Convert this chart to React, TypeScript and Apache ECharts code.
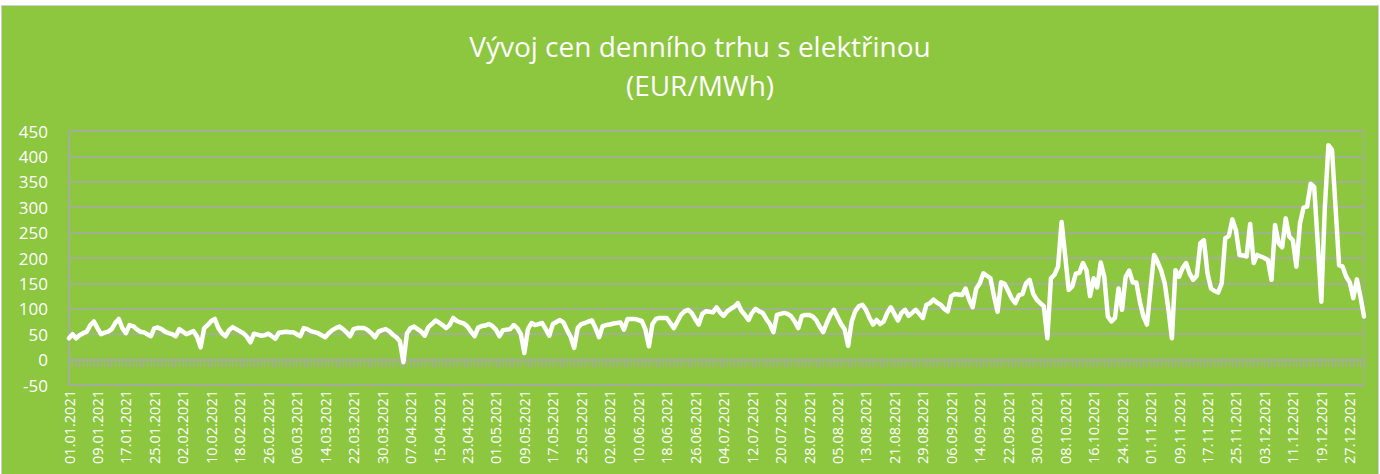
import React, { useEffect, useRef } from "react";
import * as echarts from "echarts";

// Daily prices 2021 (EUR/MWh), one array per month
const jan = [42,50,42,48,52,55,68,75,62,50,53,55,60,72,80,62,52,68,66,60,55,54,50,46,62,63,60,55,52,50,46];
const feb = [60,55,50,53,56,45,24,62,68,76,80,62,52,46,58,64,60,56,52,45,34,51,49,47,48,51,46,41];
const mar = [53,54,55,54,54,50,46,62,60,56,54,52,48,44,52,58,62,65,60,54,46,60,62,62,62,58,52,44,55,58,60];
const apr = [56,49,44,36,-5,52,62,65,60,55,47,64,70,77,73,68,62,68,82,76,73,71,65,55,46,63,66,67,70,66];
const may = [59,46,58,59,60,68,62,50,13,60,72,68,70,72,60,47,70,74,78,73,58,45,23,62,70,72,75,77,62,44,66];
const jun = [68,69,71,72,73,59,80,80,80,78,76,60,26,70,80,82,82,82,72,62,75,88,95,98,92,80,69,90,95,94];
const jul = [93,103,93,86,95,100,104,111,96,88,78,92,100,95,92,80,70,54,88,90,92,90,85,75,62,86,88,88,85,78,65];
const aug = [54,72,88,98,84,70,60,27,75,95,105,108,98,82,69,78,70,75,92,103,90,77,92,98,86,92,98,90,82,108,111];
const sep = [118,112,108,100,95,125,129,128,127,140,118,103,140,150,170,165,160,125,94,152,149,135,120,111,127,129,150,157,130,118];
const oct = [111,105,42,160,167,183,271,205,137,144,169,171,190,176,125,160,142,191,163,85,75,82,140,98,163,175,152,152,114,85,69];
const nov = [140,206,192,175,150,100,42,176,163,180,190,169,157,165,229,235,170,140,135,132,150,239,243,276,255,206,205,203,267,190];
const dec = [206,203,200,196,157,265,229,221,278,242,235,183,268,299,301,346,340,229,114,300,422,413,300,186,183,163,152,121,158,124,85];

const months = [jan, feb, mar, apr, may, jun, jul, aug, sep, oct, nov, dec];
const year = 2021;
const titleLine1 = "Vývoj cen denního trhu s elektřinou";
const titleLine2 = "(EUR/MWh)";
const yMin = -50;
const yMax = 450;
const yStep = 50;
const labelEvery = 8;

const pad = (n: number) => (n < 10 ? "0" + n : "" + n);
const categories: string[] = [];
months.forEach((m, mi) => {
  m.forEach((_, di) => categories.push(`${pad(di + 1)}.${pad(mi + 1)}.${year}`));
});
const values: number[] = ([] as number[]).concat(...months);

const GREEN = "#8dc63f";
const GRID = "#a9a9a9";
const FONT = "'Open Sans', 'Liberation Sans', sans-serif";

export default function App() {
  const ref = useRef<HTMLDivElement>(null);
  useEffect(() => {
    document.body.style.margin = "0";
    const chart = echarts.init(ref.current!, null, { renderer: "svg" });
    chart.setOption({
      animation: false,
      backgroundColor: "transparent",
      title: {
        text: titleLine1 + "\n" + titleLine2,
        left: 695,
        top: 21,
        textAlign: "center",
        textStyle: {
          color: "#ffffff",
          fontSize: 28,
          lineHeight: 39,
          fontWeight: "normal",
          fontFamily: FONT,
        },
      },
      grid: {
        left: 69,
        right: 16,
        top: 131,
        bottom: 89,
        show: true,
        borderColor: GRID,
        borderWidth: 1,
        backgroundColor: "transparent",
      },
      xAxis: [
        {
          type: "category",
          data: categories,
          boundaryGap: false,
          position: "bottom",
          axisLine: { show: true, onZero: true, lineStyle: { color: GRID, width: 1.5 } },
          axisTick: { show: true, interval: 0, length: 8, lineStyle: { color: GRID, width: 1 } },
          axisLabel: { show: false },
          splitLine: { show: false },
        },
        {
          type: "category",
          data: categories,
          boundaryGap: false,
          position: "bottom",
          axisLine: { show: false, onZero: false },
          axisTick: { show: false },
          axisLabel: {
            show: true,
            interval: labelEvery - 1,
            rotate: 90,
            color: "#ffffff",
            fontSize: 14.5,
            fontFamily: FONT,
            margin: 5,
          },
          splitLine: { show: false },
        },
      ],
      yAxis: {
        type: "value",
        min: yMin,
        max: yMax,
        interval: yStep,
        axisLine: { show: true, lineStyle: { color: GRID, width: 1.5 } },
        axisTick: { show: false },
        axisLabel: { color: "#ffffff", fontSize: 17, fontFamily: FONT, margin: 21 },
        splitLine: { show: true, lineStyle: { color: GRID, width: 1.5 } },
      },
      series: [
        {
          type: "line",
          data: values,
          xAxisIndex: 0,
          showSymbol: false,
          symbol: "none",
          lineStyle: { color: "#ffffff", width: 4.5, join: "round", cap: "round" },
          itemStyle: { color: "#ffffff" },
        },
      ],
    });
    return () => chart.dispose();
  }, []);
  return (
    <div style={{ position: "relative", width: 1380, height: 474, background: "#ffffff", overflow: "hidden" }}>
      <div
        style={{
          position: "absolute",
          left: 1,
          top: 5,
          width: 1376,
          height: 480,
          background: GREEN,
          border: "1px solid #d0d0d0",
        }}
      />
      <div ref={ref} style={{ position: "absolute", left: 0, top: 0, width: 1380, height: 474 }} />
    </div>
  );
}
